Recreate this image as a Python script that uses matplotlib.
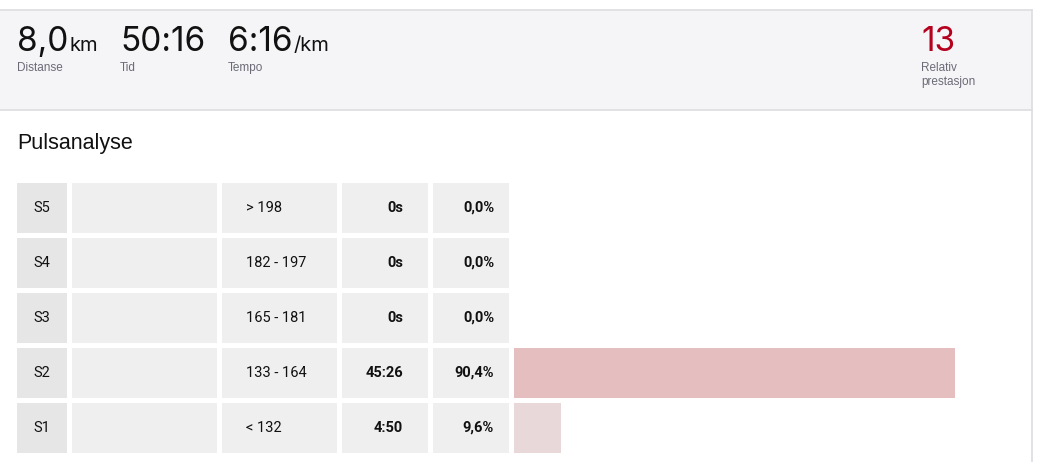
import matplotlib
matplotlib.use("Agg")
import matplotlib.pyplot as plt
from matplotlib.patches import Rectangle

# ---- data ----
zones = ["S5", "S4", "S3", "S2", "S1"]
ranges = ["> 198", "182 - 197", "165 - 181", "133 - 164", "< 132"]
durations = ["0s", "0s", "0s", "45:26", "4:50"]
shares = [0.0, 0.0, 0.0, 90.4, 9.6]
share_labels = ["0,0%", "0,0%", "0,0%", "90,4%", "9,6%"]
bar_colors = ["#e5bfbf", "#e5bfbf", "#e5bfbf", "#e5bfbf", "#e8d8d9"]

stat_values = ["8,0", "50:16", "6:16"]
stat_units = ["km", "", "/km"]
stat_labels = ["Distanse", "Tid", "Tempo"]
rel_value = "13"
rel_label = ["Relativ", "prestasjon"]
title = "Pulsanalyse"

W, H = 1038, 462
fig = plt.figure(figsize=(W / 100, H / 100), dpi=100)
fig.patch.set_facecolor("white")

# layout axes in pixel coordinates
lay = fig.add_axes([0, 0, 1, 1])
lay.set_xlim(0, W)
lay.set_ylim(H, 0)
lay.axis("off")

border = "#dcdce2"
# header panel
lay.add_patch(Rectangle((0, 9.5), 1032, 100, facecolor="#f5f5f7", edgecolor="none"))
lay.plot([0, 1032], [9.5, 9.5], color=border, lw=1.2)
lay.plot([0, 1032], [109.5, 109.5], color=border, lw=1.2)
lay.plot([1032, 1032], [9.5, H], color=border, lw=1.2)

big_font = "Inter"
lab_font = "Liberation Sans"
stat_x = [17, 120, 228]
for x, v, u, l in zip(stat_x, stat_values, stat_units, stat_labels):
    t = lay.text(x, 51, v, fontsize=24, family=big_font, color="#111111",
                 va="baseline", ha="left", fontweight="normal")
    if u:
        fig.canvas.draw()
        bb = t.get_window_extent()
        lay.text(bb.x1 + 1, 51, u, fontsize=14.5, family=big_font, color="#111111",
                 va="baseline", ha="left")
    lay.text(x, 68, l, fontsize=8.5, family=lab_font, color="#6b6b78",
             va="center", ha="left")

lay.text(921, 51, rel_value, fontsize=24, family=big_font, color="#b5001e",
         va="baseline", ha="left", fontweight="normal")
for k, line in enumerate(rel_label):
    lay.text(921, 68 + 14 * k, line, fontsize=8.5, family=lab_font, color="#6b6b78",
             va="center", ha="left")

lay.text(17, 143, title, fontsize=15.5, family=lab_font, color="#111111",
         va="center", ha="left")

# table cells
row_top0, pitch, row_h = 183, 55, 50
cols = [(17, 67, "#e6e6e6"), (72, 217, "#efefef"), (222, 337, "#efefef"),
        (342, 428, "#efefef"), (433, 509, "#efefef")]
tab_font = "Roboto"
fs = 10.5
for i, z in enumerate(zones):
    top = row_top0 + i * pitch
    cy = top + row_h / 2
    for x0, x1, c in cols:
        lay.add_patch(Rectangle((x0, top), x1 - x0, row_h, facecolor=c, edgecolor="none"))
    lay.text(42, cy, z, fontsize=fs, family=tab_font, color="#111111", ha="center", va="center")
    lay.text(246, cy, ranges[i], fontsize=fs, family=tab_font, color="#111111", ha="left", va="center")
    lay.text(403, cy, durations[i], fontsize=fs, family=tab_font, color="#111111",
             ha="right", va="center", fontweight="bold")
    lay.text(494, cy, share_labels[i], fontsize=fs, family=tab_font, color="#111111",
             ha="right", va="center", fontweight="bold")

# bar axes
bx0, bx1 = 514, 1002
by_top = row_top0 - (pitch - row_h) / 2
by_bot = by_top + pitch * len(zones)
bax = fig.add_axes([bx0 / W, (H - by_bot) / H, (bx1 - bx0) / W, (by_bot - by_top) / H])
bax.set_xlim(0, 100)
bax.set_ylim(len(zones) - 0.5, -0.5)
bax.barh(range(len(zones)), shares, height=row_h / pitch, color=bar_colors, left=0)
bax.axis("off")
bax.patch.set_alpha(0)

fig.savefig("out.png", dpi=100, facecolor="white")
